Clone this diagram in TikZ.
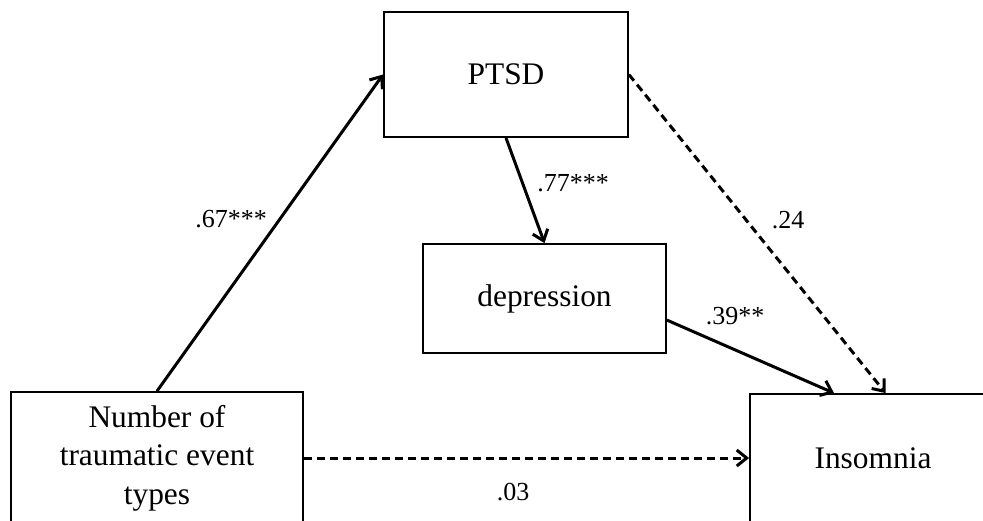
\documentclass[tikz,border=0pt]{standalone}
\usepackage{fontspec}
\setmainfont{Liberation Serif}
\usetikzlibrary{arrows.meta}
\begin{document}
\begin{tikzpicture}[x=0.5pt,y=-0.5pt,
	var/.style={draw,line width=0.9pt,inner sep=0pt,align=center,font=\fontsize{15.7}{19.3}\selectfont},
	coef/.style={inner sep=0pt,font=\fontsize{13}{15}\selectfont},
	solidarr/.style={line width=1.5pt,-{Straight Barb[length=5pt,width=8pt,line width=1.5pt]}},
	dasharr/.style={solidarr,dash pattern=on 4pt off 2.5pt}]
				\useasboundingbox (0,0) rectangle (983,520);
				\node[var,minimum width=122pt,minimum height=62.5pt] (ptsd) at (506,74.5) {PTSD};
				\node[var,minimum width=121.5pt,minimum height=54.5pt] (dep) at (544.5,298.5) {depression};
				\node[var,minimum width=146pt,minimum height=66pt] (num) at (157,458) {Number of\\traumatic event\\types};
				\node[var,minimum width=123pt,minimum height=64pt] (ins) at (873,458) {Insomnia};
				\draw[solidarr] (num.north) -- (ptsd.west);
				\draw[solidarr] (ptsd.south) -- (dep.north);
				\draw[dasharr] (ptsd.east) -- (ins.79);
				\draw[solidarr] (dep.-10) -- (ins.121);
				\draw[dasharr] (num.east) -- (ins.west);
				\node[coef] (c1) at (231,219) {.67***};
				\node[coef] (c2) at (573,183) {.77***};
				\node[coef] (c3) at (788,220) {.24};
				\node[coef] (c4) at (735,316) {.39**};
				\node[coef] (c5) at (513,492) {.03};
			\end{tikzpicture}
\end{document}
